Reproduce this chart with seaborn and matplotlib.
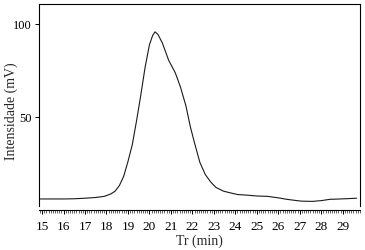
import matplotlib
matplotlib.use("Agg")
import matplotlib.pyplot as plt
from matplotlib.ticker import MultipleLocator
import pandas as pd
import seaborn as sns

# Chromatogram
tr_min = [14.9, 15.5, 16.0, 16.5, 17.0, 17.5, 17.9, 18.2, 18.4, 18.6, 18.8, 19.0,
          19.2, 19.4, 19.6, 19.8, 20.0, 20.15, 20.26, 20.4, 20.6, 20.9, 21.2, 21.45,
          21.7, 21.9, 22.1, 22.35, 22.6, 22.85, 23.1, 23.45, 23.8, 24.1, 24.5, 25.0,
          25.5, 26.0, 26.4, 26.8, 27.1, 27.6, 28.0, 28.4, 28.9, 29.3, 29.65]
intensity = [5.8, 5.8, 5.8, 5.9, 6.2, 6.6, 7.2, 8.5, 10, 13, 18, 26,
             35, 48, 62, 77, 89, 94, 96, 94.5, 90, 80.5, 74, 66,
             56, 45, 36, 25.5, 19, 15, 12, 10, 9, 8.2, 7.9, 7.4,
             7.2, 6.4, 5.6, 5.0, 4.6, 4.5, 4.9, 5.6, 5.8, 6.0, 6.2]

df = pd.DataFrame({"Tr": tr_min, "mV": intensity})

sns.set_style("ticks")
plt.rcParams["font.family"] = ["Liberation Serif", "DejaVu Serif"]

fig = plt.figure(figsize=(3.65, 2.5), dpi=100)
ax = fig.add_axes([0.107, 0.176, 0.879, 0.808])

sns.lineplot(data=df, x="Tr", y="mV", color="#1a1a1a", linewidth=0.8, ax=ax)

ax.set_xlim(14.86, 29.8)
ax.set_ylim(2, 111)
ax.xaxis.set_major_locator(MultipleLocator(1))
ax.xaxis.set_minor_locator(MultipleLocator(0.1))
ax.set_yticks([50, 100])

for s in ax.spines.values():
    s.set_linewidth(0.8)
    s.set_color("black")
ax.spines["bottom"].set_position(("outward", 3))

ax.tick_params(axis="both", which="major", labelsize=9, direction="out",
               length=3, width=0.7, pad=2, colors="black")
ax.tick_params(axis="x", which="minor", direction="out", length=1.8, width=0.5)
ax.tick_params(axis="x", which="major", labelsize=9.5, pad=5)

ax.set_xlabel("Tr (min)", fontsize=10, labelpad=1)
ax.set_ylabel("Intensidade (mV)", fontsize=10)
ax.yaxis.set_label_coords(-0.066, 0.47)

fig.savefig("out.png", dpi=100)
